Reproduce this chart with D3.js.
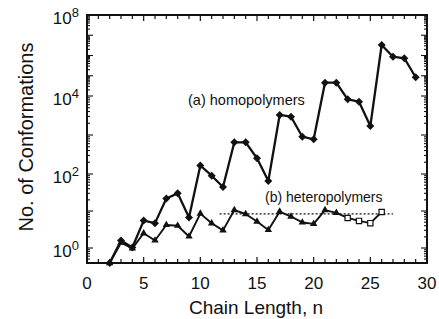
<!DOCTYPE html>
<html><head><meta charset="utf-8">
<script src="https://cdn.jsdelivr.net/npm/d3@7"></script>
<style>
body{margin:0;background:#fff}
svg{display:block}
text{font-family:"Liberation Sans",Arial,Helvetica,sans-serif;fill:#111}
</style>
</head><body>
<svg id="c" width="439" height="319"></svg>
<script>
// ---- data ----
const homoN = [2,3,4,5,6,7,8,9,10,11,12,13,14,15,16,17,18,19,20,21,22,23,24,25,26,27,28,29];
const homopolymers = [0.39,1.6,1.03,5.5,4.7,21.8,30,6.7,165,90,44.5,650,650,253,64.7,3260,2940,904,776,45400,45400,8220,7140,1700,3.3e6,8.7e5,7.3e5,8.4e4];
const heteroN = [2,3,4,5,6,7,8,9,10,11,12,13,14,15,16,17,18,19,20,21,22];
const heteropolymers = [0.39,1.39,0.98,2.5,1.6,4.2,4.0,2.05,8.5,4.65,3.0,10.6,8.3,5.2,3.07,9.6,7.1,4.9,4.5,10.6,8.9];
const estimatedN = [23,24,25,26];
const estimated = [6.5,5.4,4.7,9.4];
const refLevel = 8.4;
const refFrom = 11.7, refTo = 27;
const xTickValues = [0,5,10,15,20,25,30];
const yTickValues = [1,1e2,1e4,1e8];
const yTickExponents = ["0","2","4","8"];

// ---- scales ----
const svg = d3.select("#c");
const x = d3.scaleLinear().domain([0,30]).range([87,427]);
const y = d3.scaleLog().domain([0.39,1,1e2,1e4,1e8]).range([263,248,174,96,15]);
const x0 = x(0), x1 = x(30), yTop = y(1e8), yBot = y(0.39);

// ---- frame + ticks ----
const g = svg.append("g").attr("stroke","#111").attr("fill","none");
d3.range(1,30).forEach(n=>{
  const L = n%5===0 ? 6 : 4;
  g.append("line").attr("x1",x(n)).attr("x2",x(n)).attr("y1",yBot).attr("y2",yBot-L).attr("stroke-width",1.2);
  g.append("line").attr("x1",x(n)).attr("x2",x(n)).attr("y1",yTop).attr("y2",yTop+L).attr("stroke-width",1.2);
});
const yMinor = [];
for(let m=4;m<=9;m++) yMinor.push(m*0.1);
for(let k=0;k<8;k++) for(let m=1;m<=9;m++) yMinor.push(m*Math.pow(10,k));
yMinor.push(1e8);
yMinor.forEach(v=>{
  const dec = Math.abs(Math.log10(v)-Math.round(Math.log10(v)))<1e-9;
  const L = dec ? 6 : 3;
  g.append("line").attr("x1",x0).attr("x2",x0+L).attr("y1",y(v)).attr("y2",y(v)).attr("stroke-width",1.1);
  g.append("line").attr("x1",x1).attr("x2",x1-L).attr("y1",y(v)).attr("y2",y(v)).attr("stroke-width",1.1);
});
g.append("rect").attr("x",x0).attr("y",yTop).attr("width",x1-x0).attr("height",yBot-yTop).attr("stroke-width",2);

// ---- tick labels ----
svg.selectAll(".xl").data(xTickValues).join("text")
  .attr("x",d=>x(d)).attr("y",289).attr("text-anchor","middle")
  .attr("font-size",17).text(d=>d);
const yl = svg.selectAll(".yl").data(yTickValues).join("text")
  .attr("x",79).attr("y",(d)=>y(d)+9).attr("text-anchor","end").attr("font-size",17);
yl.append("tspan").text("10");
yl.append("tspan").attr("font-size",13).attr("dy",-7).text((d,i)=>yTickExponents[i]);

// ---- axis titles ----
svg.append("text").attr("x",256).attr("y",314).attr("text-anchor","middle").attr("font-size",19).text("Chain Length, n");
svg.append("text").attr("transform","translate(33,137) rotate(-90)").attr("text-anchor","middle").attr("font-size",20).text("No. of Conformations");

// ---- annotations ----
svg.append("text").attr("x",188).attr("y",105).attr("font-size",14.5).text("(a) homopolymers");
svg.append("text").attr("x",265).attr("y",202).attr("font-size",14).text("(b) heteropolymers");

// ---- reference dotted line ----
svg.append("line").attr("x1",x(refFrom)).attr("x2",x(refTo)).attr("y1",y(refLevel)).attr("y2",y(refLevel))
  .attr("stroke","#111").attr("stroke-width",1.3).attr("stroke-dasharray","2,2");

// ---- series ----
const line = d3.line().x(d=>x(d[0])).y(d=>y(d[1]));
const homo = homoN.map((n,i)=>[n,homopolymers[i]]);
const het = heteroN.map((n,i)=>[n,heteropolymers[i]]);
const est = estimatedN.map((n,i)=>[n,estimated[i]]);

svg.append("path").attr("d",line(het.concat(est))).attr("fill","none").attr("stroke","#111").attr("stroke-width",1.9).attr("stroke-linejoin","round");
svg.append("path").attr("d",line(homo)).attr("fill","none").attr("stroke","#111").attr("stroke-width",2.3).attr("stroke-linejoin","round");

svg.selectAll(".hm").data(homo).join("path")
  .attr("d",d3.symbol(d3.symbolSquare,32))
  .attr("transform",d=>`translate(${x(d[0])},${y(d[1])}) rotate(45)`).attr("fill","#111");
svg.selectAll(".ht").data(het).join("path")
  .attr("d",d3.symbol(d3.symbolTriangle,24))
  .attr("transform",d=>`translate(${x(d[0])},${y(d[1])})`).attr("fill","#111");
svg.selectAll(".es").data(est).join("path")
  .attr("d",d3.symbol(d3.symbolSquare,28))
  .attr("transform",d=>`translate(${x(d[0])},${y(d[1])})`).attr("fill","#fff").attr("stroke","#111").attr("stroke-width",1.2);
</script>
</body></html>
